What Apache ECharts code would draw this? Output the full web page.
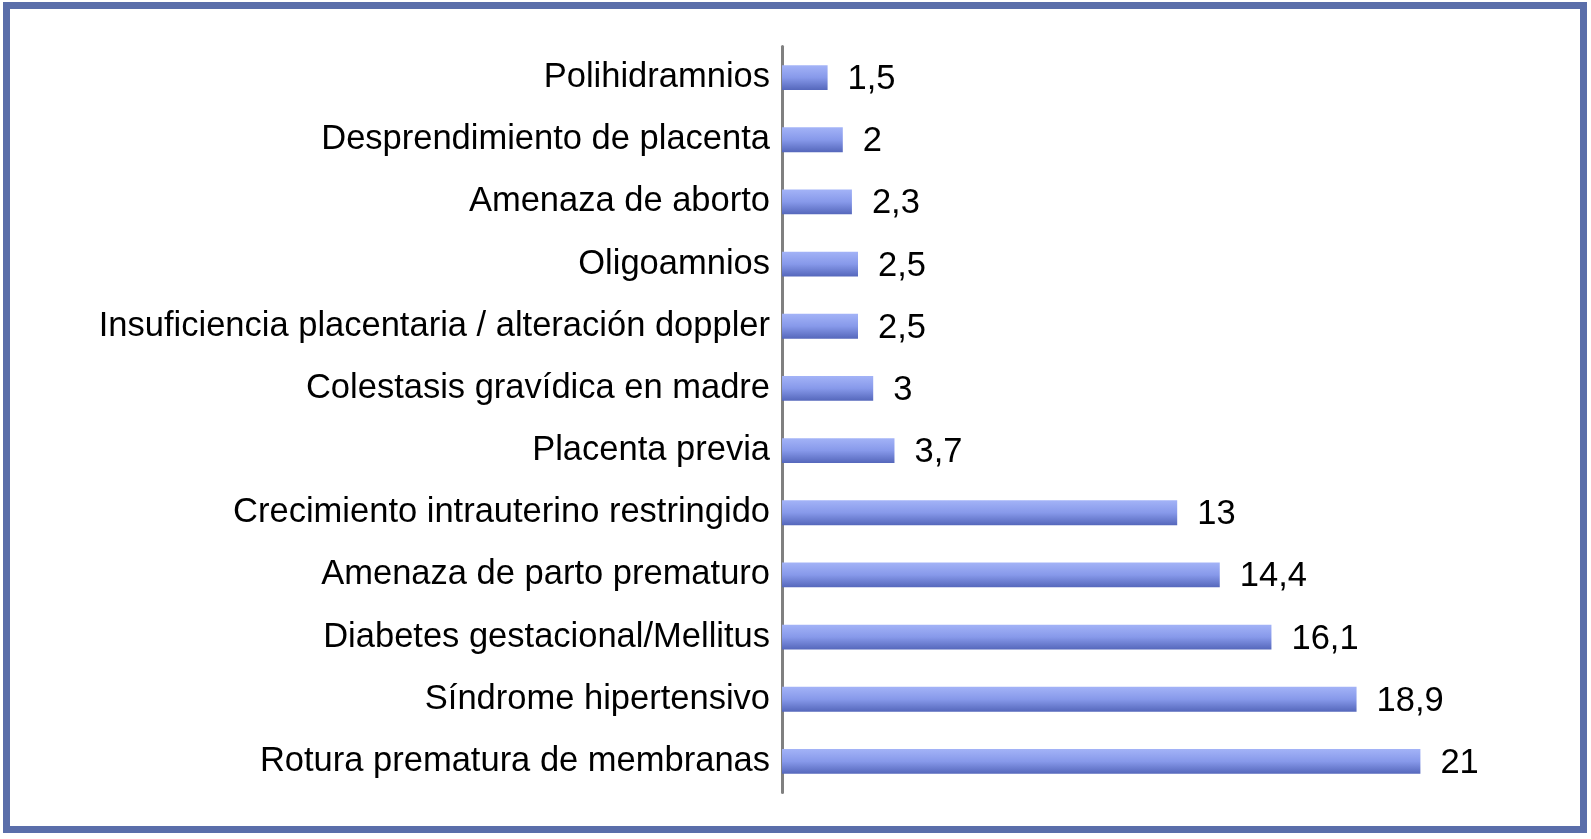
<!DOCTYPE html>
<html>
<head>
<meta charset="utf-8">
<script src="https://cdn.jsdelivr.net/npm/echarts@6/dist/echarts.min.js"></script>
<style>
html,body{margin:0;padding:0;background:#fff;}
#c{width:1591px;height:839px;}
</style>
</head>
<body>
<div id="c"></div>
<script>
const categories = [
  "Polihidramnios",
  "Desprendimiento de placenta",
  "Amenaza de aborto",
  "Oligoamnios",
  "Insuficiencia placentaria / alteración doppler",
  "Colestasis gravídica en madre",
  "Placenta previa",
  "Crecimiento intrauterino restringido",
  "Amenaza de parto prematuro",
  "Diabetes gestacional/Mellitus",
  "Síndrome hipertensivo",
  "Rotura prematura de membranas"
];
const values = [1.5, 2, 2.3, 2.5, 2.5, 3, 3.7, 13, 14.4, 16.1, 18.9, 21];

const chart = echarts.init(document.getElementById('c'));
chart.setOption({
  animation: false,
  backgroundColor: '#ffffff',
  graphic: [{
    type: 'rect',
    shape: {x: 6.5, y: 5.5, width: 1577, height: 824},
    style: {fill: 'none', stroke: '#5a6eaa', lineWidth: 7},
    silent: true
  }],
  grid: {left: 782, right: 49, top: 46.5, bottom: 46.5, containLabel: false},
  xAxis: {
    type: 'value', min: 0, max: 25, show: false
  },
  yAxis: {
    type: 'category',
    inverse: true,
    data: categories,
    axisLine: {show: true, lineStyle: {color: '#808080', width: 3}},
    axisTick: {show: false},
    axisLabel: {
      margin: 12,
      fontSize: 34.5,
      color: '#000',
      fontFamily: 'Liberation Sans, Arial, sans-serif'
    }
  },
  series: [{
    type: 'bar',
    data: values,
    barWidth: '40%',
    itemStyle: {
      color: new echarts.graphic.LinearGradient(0, 0, 0, 1, [
        {offset: 0, color: '#a3b3f7'},
        {offset: 0.5, color: '#8799ea'},
        {offset: 1, color: '#5567bb'}
      ])
    },
    label: {
      show: true,
      position: 'right',
      distance: 20,
      fontSize: 34.5,
      color: '#000',
      fontFamily: 'Liberation Sans, Arial, sans-serif',
      offset: [0, 2],
      formatter: p => String(p.value).replace('.', ',')
    }
  }]
});
</script>
</body>
</html>
